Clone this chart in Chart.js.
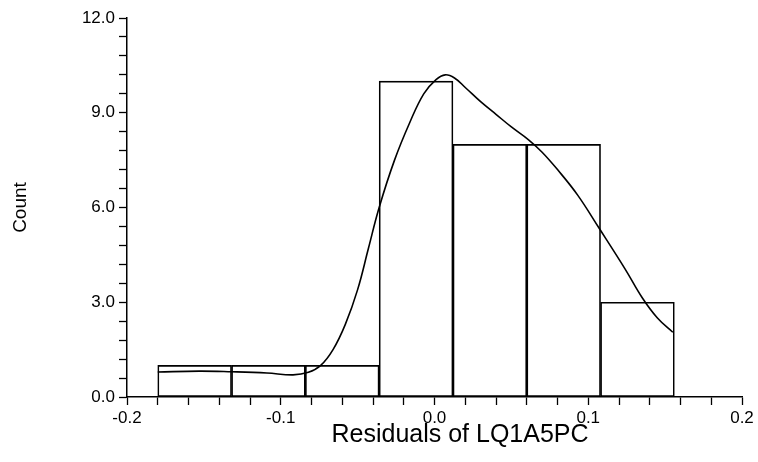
<!DOCTYPE html>
<html lang="en">
<head>
    <meta charset="UTF-8">
    <title>Residuals of LQ1A5PC</title>
    <script src="https://cdn.jsdelivr.net/npm/chart.js"></script>
    <style>
        body { margin: 0; background: #fff; }
        #wrap { width: 758px; height: 462px; }
    </style>
</head>
<body>
    <div id="wrap"><canvas id="chart"></canvas></div>

    <script>
        // histogram bins (left edge) and counts
        const binStart = [-0.180, -0.132, -0.084, -0.036, 0.012, 0.060, 0.108];
        const binWidth = 0.048;
        const counts = [1, 1, 1, 10, 8, 8, 3];

        // density curve
        const curveX = [-0.180, -0.153, -0.132, -0.109, -0.092, -0.082, -0.074, -0.066, -0.058, -0.050, -0.043, -0.036,
                        -0.026, -0.016, -0.007, 0.001, 0.007, 0.013, 0.020, 0.030, 0.040, 0.050, 0.061, 0.070,
                        0.080, 0.093, 0.107, 0.124, 0.135, 0.145, 0.155];
        const curveY = [0.79, 0.82, 0.80, 0.76, 0.70, 0.78, 1.0, 1.5, 2.3, 3.4, 4.7, 6.0,
                        7.5, 8.7, 9.6, 10.05, 10.2, 10.1, 9.8, 9.35, 8.95, 8.55, 8.15, 7.75,
                        7.2, 6.4, 5.35, 4.05, 3.15, 2.5, 2.05];

        const xTitle = 'Residuals of LQ1A5PC';
        const yTitle = 'Count';
        const font = 'Arial, "Liberation Sans", sans-serif';

        const barData = binStart.map((s, i) => ({ x: s + binWidth / 2, y: counts[i] }));
        const curveData = curveX.map((x, i) => ({ x: x, y: curveY[i] }));

        // x axis title is drawn a bit right of centre, as in the original
        const xTitlePlugin = {
            id: 'xTitle',
            afterDraw(chart) {
                const ctx = chart.ctx;
                ctx.save();
                ctx.font = '25px ' + font;
                ctx.fillStyle = '#000';
                ctx.textAlign = 'center';
                ctx.textBaseline = 'middle';
                ctx.fillText(xTitle, 460, 435);
                ctx.restore();
            }
        };

        const ctx = document.getElementById('chart').getContext('2d');
        const chart = new Chart(ctx, {
            type: 'bar',
            data: {
                datasets: [
                    {
                        type: 'line',
                        data: curveData,
                        borderColor: '#000',
                        borderWidth: 1.6,
                        pointRadius: 0,
                        tension: 0.4,
                        fill: false,
                        order: 0
                    },
                    {
                        data: barData,
                        backgroundColor: 'rgba(0,0,0,0)',
                        borderColor: '#000',
                        borderWidth: 1,
                        borderSkipped: false,
                        barThickness: 'flex',
                        barPercentage: 1,
                        categoryPercentage: 1,
                        order: 1
                    }
                ]
            },
            options: {
                responsive: true,
                maintainAspectRatio: false,
                animation: false,
                layout: { padding: { top: 18, right: 16, left: 0, bottom: 0 } },
                plugins: {
                    legend: { display: false },
                    tooltip: { enabled: false }
                },
                scales: {
                    x: {
                        type: 'linear',
                        min: -0.2,
                        max: 0.2,
                        offset: false,
                        afterFit: s => { s.height = 65; },
                        border: { color: '#000', width: 1.5 },
                        grid: { drawOnChartArea: false, offset: false, tickLength: 8, tickColor: '#000', tickWidth: 1.3 },
                        ticks: {
                            stepSize: 0.02,
                            autoSkip: false,
                            maxRotation: 0,
                            padding: 3,
                            color: '#000',
                            font: { family: font, size: 17 },
                            callback: v => Math.abs(v * 10 - Math.round(v * 10)) < 1e-6 ? (Math.abs(v) < 1e-9 ? '0.0' : v.toFixed(1)) : ''
                        }
                    },
                    y: {
                        min: 0,
                        max: 12,
                        afterFit: s => { s.width = 127; },
                        border: { color: '#000', width: 1.5 },
                        grid: { drawOnChartArea: false, tickLength: 8, tickColor: '#000', tickWidth: 1.3 },
                        title: {
                            display: true,
                            text: yTitle,
                            color: '#000',
                            font: { family: font, size: 19 },
                            padding: { top: 9, bottom: 0 }
                        },
                        ticks: {
                            stepSize: 0.6,
                            autoSkip: false,
                            padding: 4,
                            color: '#000',
                            font: { family: font, size: 17 },
                            callback: v => Math.abs(v / 3 - Math.round(v / 3)) < 1e-6 ? v.toFixed(1) : ''
                        }
                    }
                }
            },
            plugins: [xTitlePlugin]
        });
    </script>
</body>
</html>
